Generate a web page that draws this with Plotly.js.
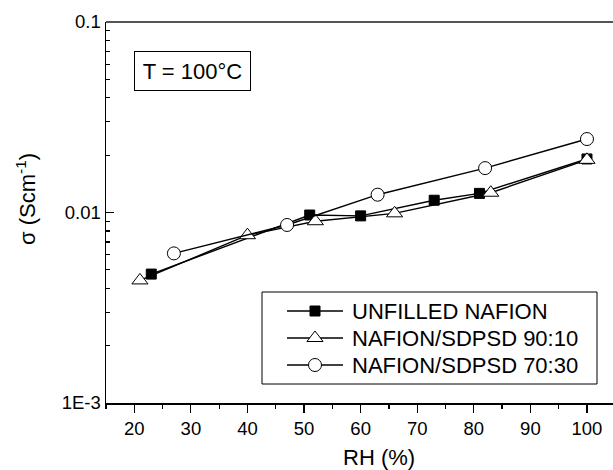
<!DOCTYPE html>
<html>
<head>
<meta charset="utf-8">
<script src="https://cdn.plot.ly/plotly-3.0.1.min.js"></script>
<style>html,body{margin:0;padding:0;background:#fff}#chart{width:613px;height:470px}</style>
</head>
<body>
<div id="chart"></div>
<script>
// Data
const rhUnfilled = [23, 51, 60, 73, 81, 100];
const sigmaUnfilled = [0.00475, 0.0097, 0.0096, 0.0116, 0.0126, 0.0191];
const rh9010 = [21, 40, 52, 66, 83, 100];
const sigma9010 = [0.0044, 0.0076, 0.0090, 0.0099, 0.0127, 0.0189];
const rh7030 = [27, 47, 63, 82, 100];
const sigma7030 = [0.0061, 0.0086, 0.0124, 0.0171, 0.0243];
const seriesNames = ['UNFILLED NAFION', 'NAFION/SDPSD 90:10', 'NAFION/SDPSD 70:30'];
const yTickVals = [0.001, 0.01, 0.1];
const yTickText = ['1E-3', '0.01', '0.1'];
const yMinorVals = [0.002,0.003,0.004,0.005,0.006,0.007,0.008,0.009,0.02,0.03,0.04,0.05,0.06,0.07,0.08,0.09];

const FONT = 'Liberation Sans, Arial, sans-serif';
const W = 613, H = 470;
const M = {l: 106, r: 0, t: 22, b: 67};
const PW = W - M.l - M.r, PH = H - M.t - M.b;
const px2x = p => (p - M.l) / PW;         // pixel -> paper x
const py2y = p => (H - M.b - p) / PH;      // pixel -> paper y

const lineStyle = {color: 'black', width: 1.4};
const markers = [
  {symbol: 'square', size: 10, color: 'black', line: {color: 'black', width: 1}},
  {symbol: 'triangle-up', size: 14, color: 'white', line: {color: 'black', width: 1}},
  {symbol: 'circle', size: 13, color: 'white', line: {color: 'black', width: 1}}
];
const xs = [rhUnfilled, rh9010, rh7030];
const ys = [sigmaUnfilled, sigma9010, sigma7030];

const traces = [];
for (let i = 0; i < 3; i++) {
  traces.push({x: xs[i], y: ys[i], name: seriesNames[i], mode: 'lines+markers',
    line: lineStyle, marker: markers[i], showlegend: false, cliponaxis: false});
}

// Custom legend (drawn on an invisible overlay axis spanning the plot area)
const legRowsPx = [311, 338, 365];
const legLineX0 = px2x(287), legLineX1 = px2x(343), legMarkX = px2x(315), legTextX = px2x(350);
const annotations = [];
for (let i = 0; i < 3; i++) {
  const yy = py2y(legRowsPx[i]);
  traces.push({x: [legLineX0, legLineX1], y: [yy, yy], xaxis: 'x2', yaxis: 'y2', mode: 'lines',
    line: lineStyle, showlegend: false, hoverinfo: 'skip'});
  traces.push({x: [legMarkX], y: [yy], xaxis: 'x2', yaxis: 'y2', mode: 'markers',
    marker: markers[i], showlegend: false, hoverinfo: 'skip'});
  annotations.push({text: seriesNames[i], xref: 'paper', yref: 'paper', x: legTextX, y: yy,
    xanchor: 'left', yanchor: 'middle', showarrow: false,
    font: {family: FONT, size: 22, color: 'black'}});
}

annotations.push(
  {text: 'T = 100°C', xref: 'paper', yref: 'paper', x: px2x(192.5), y: py2y(70.5),
   xanchor: 'center', yanchor: 'middle', showarrow: false, width: 105, height: 28,
   font: {family: FONT, size: 22, color: 'black'},
   bordercolor: 'black', borderwidth: 1, borderpad: 5, bgcolor: 'white'},
  {text: 'σ (Scm<sup>-1</sup>)', xref: 'paper', yref: 'paper', x: px2x(26), y: py2y(199),
   xanchor: 'center', yanchor: 'middle', showarrow: false, textangle: -90,
   font: {family: FONT, size: 22, color: 'black'}},
  {text: 'RH (%)', xref: 'paper', yref: 'paper', x: px2x(379), y: py2y(457),
   xanchor: 'center', yanchor: 'middle', showarrow: false,
   font: {family: FONT, size: 22, color: 'black'}}
);

const layout = {
  width: W, height: H,
  margin: {l: M.l, r: M.r, t: M.t, b: M.b, pad: 0},
  paper_bgcolor: 'white', plot_bgcolor: 'white',
  font: {family: FONT, color: 'black'},
  showlegend: false,
  xaxis: {
    range: [15, 104.6], tick0: 0, dtick: 10,
    ticks: 'outside', ticklen: 8, tickwidth: 1.2, tickcolor: 'black',
    showline: true, linecolor: 'black', linewidth: 1.5,
    showgrid: false, zeroline: false,
    tickfont: {family: FONT, size: 18.5, color: 'black'},
    minor: {dtick: 5, tick0: 0, ticks: 'outside', ticklen: 4, tickwidth: 1.2, tickcolor: 'black', showgrid: false}
  },
  yaxis: {
    type: 'log', range: [-3, -1],
    tickmode: 'array', tickvals: yTickVals, ticktext: yTickText, ticksuffix: '\u00a0',
    ticks: 'inside', ticklen: 8, tickwidth: 1.2, tickcolor: 'black',
    showline: true, linecolor: 'black', linewidth: 1.5,
    showgrid: false, zeroline: false,
    tickfont: {family: FONT, size: 18.5, color: 'black'},
    minor: {tickmode: 'array', tickvals: yMinorVals, ticks: 'inside', ticklen: 4, tickwidth: 1.2, tickcolor: 'black', showgrid: false}
  },
  xaxis2: {overlaying: 'x', range: [0, 1], visible: false, fixedrange: true},
  yaxis2: {overlaying: 'y', range: [0, 1], visible: false, fixedrange: true},
  shapes: [
    {type: 'line', xref: 'paper', yref: 'paper', x0: 0, x1: 1, y0: 1, y1: 1,
     line: {color: '#555', width: 2}},
    {type: 'rect', xref: 'paper', yref: 'paper', layer: 'below',
     x0: px2x(262), x1: px2x(597), y0: py2y(384), y1: py2y(292),
     line: {color: 'black', width: 1}, fillcolor: 'white'}
  ],
  annotations: annotations
};

Plotly.newPlot('chart', traces, layout, {displayModeBar: false, staticPlot: true});
</script>
</body>
</html>
